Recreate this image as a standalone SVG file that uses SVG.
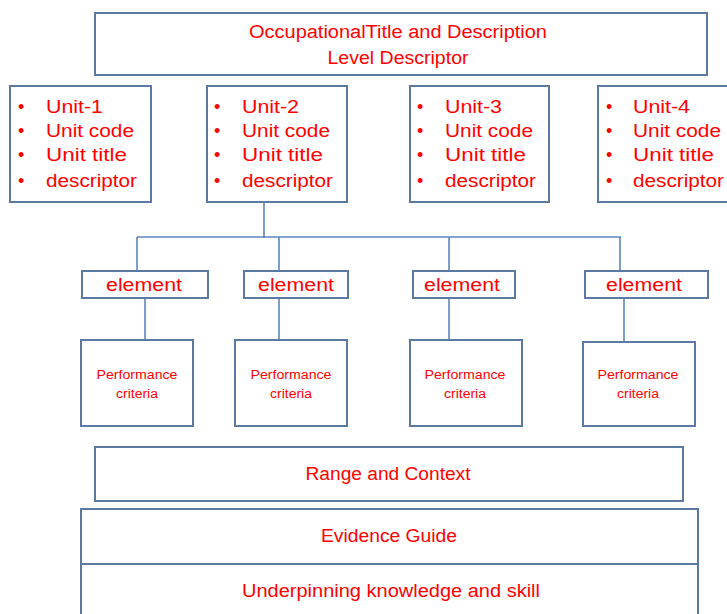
<svg xmlns="http://www.w3.org/2000/svg" width="727" height="614" viewBox="0 0 727 614">
<style>
.box{fill:#fff;stroke:#5b7aa3;stroke-width:2}
.t{fill:#ff0000;font-family:"Liberation Sans",Arial,sans-serif;font-size:18px}
.c{text-anchor:middle}
.s{font-size:12px}
.conn line{stroke:#5a86c0;stroke-width:1.6}
</style>
<defs>
<g id="list" class="t">
<text x="0" y="27">•</text><text x="0" y="51">•</text><text x="0" y="75">•</text><text x="0" y="101">•</text>
</g>
</defs>
<rect width="727" height="614" fill="#fff"/>
<g id="title">
<rect class="box" x="95" y="13" width="612" height="62"/>
<text class="t c" x="398" y="38" textLength="298" lengthAdjust="spacingAndGlyphs">OccupationalTitle and Description</text>
<text class="t c" x="398" y="64" textLength="141" lengthAdjust="spacingAndGlyphs">Level Descriptor</text>
</g>
<g id="unit1">
<rect class="box" x="10" y="86" width="141" height="116"/>
<use href="#list" x="18" y="86"/>
<g class="t"><text x="46" y="113" textLength="57" lengthAdjust="spacingAndGlyphs">Unit-1</text><text x="46" y="137" textLength="88" lengthAdjust="spacingAndGlyphs">Unit code</text><text x="46" y="161" textLength="81" lengthAdjust="spacingAndGlyphs">Unit title</text><text x="46" y="187" textLength="91" lengthAdjust="spacingAndGlyphs">descriptor</text></g>
</g>
<g id="unit2">
<rect class="box" x="207" y="86" width="140" height="116"/>
<use href="#list" x="214" y="86"/>
<g class="t"><text x="242" y="113" textLength="57" lengthAdjust="spacingAndGlyphs">Unit-2</text><text x="242" y="137" textLength="88" lengthAdjust="spacingAndGlyphs">Unit code</text><text x="242" y="161" textLength="81" lengthAdjust="spacingAndGlyphs">Unit title</text><text x="242" y="187" textLength="91" lengthAdjust="spacingAndGlyphs">descriptor</text></g>
</g>
<g id="unit3">
<rect class="box" x="410" y="86" width="139" height="116"/>
<use href="#list" x="417" y="86"/>
<g class="t"><text x="445" y="113" textLength="57" lengthAdjust="spacingAndGlyphs">Unit-3</text><text x="445" y="137" textLength="88" lengthAdjust="spacingAndGlyphs">Unit code</text><text x="445" y="161" textLength="81" lengthAdjust="spacingAndGlyphs">Unit title</text><text x="445" y="187" textLength="91" lengthAdjust="spacingAndGlyphs">descriptor</text></g>
</g>
<g id="unit4">
<rect class="box" x="598" y="86" width="140" height="116"/>
<use href="#list" x="606" y="86"/>
<g class="t"><text x="633" y="113" textLength="57" lengthAdjust="spacingAndGlyphs">Unit-4</text><text x="633" y="137" textLength="88" lengthAdjust="spacingAndGlyphs">Unit code</text><text x="633" y="161" textLength="81" lengthAdjust="spacingAndGlyphs">Unit title</text><text x="633" y="187" textLength="91" lengthAdjust="spacingAndGlyphs">descriptor</text></g>
</g>
<g class="conn" id="connectors">
<line x1="264" y1="202" x2="264" y2="238"/>
<line x1="137" y1="237" x2="621" y2="237"/>
<line x1="137" y1="237" x2="137" y2="271"/>
<line x1="279" y1="237" x2="279" y2="271"/>
<line x1="449" y1="237" x2="449" y2="271"/>
<line x1="620" y1="237" x2="620" y2="271"/>
<line x1="145" y1="298" x2="145" y2="340"/>
<line x1="279" y1="298" x2="279" y2="340"/>
<line x1="449" y1="298" x2="449" y2="340"/>
<line x1="624" y1="298" x2="624" y2="342"/>
</g>
<g id="el1"><rect class="box" x="82" y="271" width="126" height="27"/><text class="t c" x="144" y="291" textLength="76" lengthAdjust="spacingAndGlyphs">element</text></g>
<g id="el2"><rect class="box" x="244" y="271" width="104" height="27"/><text class="t c" x="296" y="291" textLength="76" lengthAdjust="spacingAndGlyphs">element</text></g>
<g id="el3"><rect class="box" x="413" y="271" width="102" height="27"/><text class="t c" x="462" y="291" textLength="76" lengthAdjust="spacingAndGlyphs">element</text></g>
<g id="el4"><rect class="box" x="585" y="271" width="123" height="27"/><text class="t c" x="644" y="291" textLength="76" lengthAdjust="spacingAndGlyphs">element</text></g>
<g id="pc1"><rect class="box" x="81" y="340" width="112" height="86"/><text class="t c s" x="137" y="379" textLength="81" lengthAdjust="spacingAndGlyphs">Performance</text><text class="t c s" x="137" y="398" textLength="42" lengthAdjust="spacingAndGlyphs">criteria</text></g>
<g id="pc2"><rect class="box" x="235" y="340" width="112" height="86"/><text class="t c s" x="291" y="379" textLength="81" lengthAdjust="spacingAndGlyphs">Performance</text><text class="t c s" x="291" y="398" textLength="42" lengthAdjust="spacingAndGlyphs">criteria</text></g>
<g id="pc3"><rect class="box" x="410" y="340" width="112" height="86"/><text class="t c s" x="465" y="379" textLength="81" lengthAdjust="spacingAndGlyphs">Performance</text><text class="t c s" x="465" y="398" textLength="42" lengthAdjust="spacingAndGlyphs">criteria</text></g>
<g id="pc4"><rect class="box" x="583" y="342" width="112" height="84"/><text class="t c s" x="638" y="379" textLength="81" lengthAdjust="spacingAndGlyphs">Performance</text><text class="t c s" x="638" y="398" textLength="42" lengthAdjust="spacingAndGlyphs">criteria</text></g>
<g id="range"><rect class="box" x="95" y="447" width="588" height="54"/><text class="t c" x="388" y="480" textLength="165" lengthAdjust="spacingAndGlyphs">Range and Context</text></g>
<g id="evidence">
<rect class="box" x="81" y="509" width="617" height="110"/>
<line x1="81" y1="564" x2="698" y2="564" stroke="#5b7aa3" stroke-width="2"/>
<text class="t c" x="389" y="542" textLength="136" lengthAdjust="spacingAndGlyphs">Evidence Guide</text>
<text class="t c" x="391" y="597" textLength="298" lengthAdjust="spacingAndGlyphs">Underpinning knowledge and skill</text>
</g>
</svg>
